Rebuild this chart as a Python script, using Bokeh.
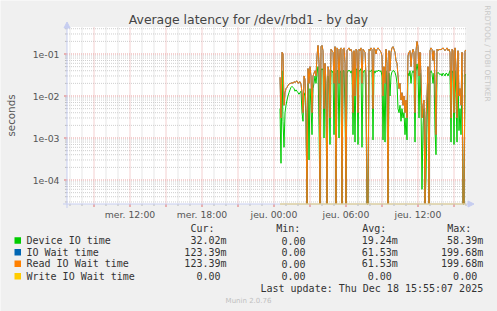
import math
from bokeh.plotting import figure
from bokeh.models import Range1d, LogScale, Label, Arrow, NormalHead
from bokeh.core.properties import value
from bokeh.embed import file_html
from bokeh.resources import INLINE

# ---------------- data ----------------
title_text = "Average latency for /dev/rbd1 - by day"
y_axis_label = "seconds"
side_text = "RRDTOOL / TOBI OETIKER"
footer_text = "Munin 2.0.76"
last_update = "Last update: Thu Dec 18 15:55:07 2025"

# time axis: hours counted from Wednesday 00:00
view_start_hour = 6.75
view_end_hour = 40.0833
data_start_hour = 24.5          # Thursday 00:30
step_hours = 5.0 / 60.0         # 5 minute samples

x_label_hours = [12, 18, 24, 30, 36]
x_tick_labels = ["mer. 12:00", "mer. 18:00", "jeu. 00:00", "jeu. 06:00", "jeu. 12:00"]

y_tick_values = [1e-4, 1e-3, 1e-2, 1e-1]
y_tick_labels = ["1e-04", "1e-03", "1e-02", "1e-01"]
Y_MIN, Y_MAX = 2.683e-5, 0.4396

device_io = [
    .005, .00025, .04, .0025, .0006, .004, .006, .008, .01, .012,
    .014, .016, .017, .016, .015, .013, .014, .013, .012, .011,
    .012, .013, .004, .0025, .012, .01, .003, 0, .02, .0003,
    .015, .006, .0012, .015, .02, .03, .02, .035, .05, .002,
    0, .04, .045, .04, .001, .03, .005, 0, .03, .02,
    .0007, .04, .04, .035, .0012, .035, 0, .04, .04, .001,
    .04, .035, 0, .04, .04, .005, 0, .035, .04, .04,
    .04, .035, .04, .0012, .035, .0008, .04, .045, .0007, .04,
    .04, .045, .0006, .035, .04, .04, .005, 0, 0, .04,
    .038, .04, .042, .0009, .04, .035, .04, .038, .04, .041,
    .038, .04, .03, .0009, .02, .0008, .04, .01, 0, .035,
    .01, .03, .038, .04, .04, .036, .03, .02, .005, .004,
    .006, .0025, .005, .003, .004, .0012, .003, .0009, .035, .03,
    .04, .02, .035, .04, .035, .0008, .038, .058, .04, .003,
    .035, .006, .00006, .002, .005, 0, .0001, .003, .02, 0,
    .035, .04, .035, .02, .035, .0015, .0004, .035, .036, .035,
    .032, .034, .03, .035, .033, .03, .035, .034, .03, .035,
    .04, .0008, .04, .035, .0007, .04, .01, .0008, .038, .0015,
    .005, .0012, .035, 0, 0, .032, .03202,
]

read_io_wait = [
    .028, .003, .11, .10, .006, .012, .015, .016, .018, .019,
    .02, .02, .021, .02, .022, .021, .022, .023, .02, .021,
    .022, .019, .012, .004, .03, .025, .004, 0, .045, .02,
    .05, .03, .004, .03, .035, .04, .03, .09, .16, .06,
    0, .15, .16, .12, .005, .06, .02, 0, .05, .04,
    .003, .13, .12, .11, .02, .15, 0, .14, .13, .02,
    .13, .14, 0, .13, .14, .06, 0, .12, .13, .14,
    .12, .13, .11, .004, .12, .01, .13, .12, .004, .13,
    .12, .14, .02, .13, .12, .11, .03, 0, 0, .13,
    .12, .14, .13, .005, .14, .13, .10, .13, .14, .13,
    .12, .11, .09, .01, .05, .02, .13, .06, 0, .12,
    .04, .11, .14, .15, .13, .11, .07, .06, .03, .015,
    .02, .008, .012, .006, .01, .004, .008, .003, .09, .11,
    .12, .05, .10, .13, .11, .004, .12, .20, .15, .03,
    .11, .03, .003, .006, .008, 0, .003, .01, .05, 0,
    .12, .14, .13, .07, .12, .02, .0012, .13, .12, .13,
    .125, .13, .13, .14, .13, .12, .13, .14, .12, .13,
    .11, .003, .13, .12, .004, .14, .05, .003, .12, .01,
    .015, .006, .11, 0, 0, .12, .12339,
]

io_wait = list(read_io_wait)                 # identical per legend
write_io_wait = [0.0] * len(read_io_wait)    # all zero per legend

series_names = ["Device IO time", "IO Wait time", "Read IO Wait time", "Write IO Wait time"]
series_colors = ["#00CC00", "#0066B3", "#FF8000", "#FFCC00"]
col_headers = ["Cur:", "Min:", "Avg:", "Max:"]
cur_vals = ["32.02m", "123.39m", "123.39m", "0.00"]
min_vals = ["0.00", "0.00", "0.00", "0.00"]
avg_vals = ["19.24m", "61.53m", "61.53m", "0.00"]
max_vals = ["58.39m", "199.68m", "199.68m", "0.00"]

# ---------------- layout (canvas pixels) ----------------
W, H = 497, 311
PL, PR, PT, PB = 66.5, 466.5, 26.5, 203.5   # plot area on the canvas

p = figure(width=W, height=H, output_backend="svg", toolbar_location=None,
           title=None, x_axis_type=None, y_axis_type=None,
           x_range=Range1d(0, W), y_range=Range1d(H, 0), min_border=0)
p.background_fill_color = "#F0F0F0"
p.border_fill_color = "#F0F0F0"
p.outline_line_color = None

# time scale mapped onto the plot area
px_per_h = (PR - PL) / (view_end_hour - view_start_hour)
p.extra_x_ranges = {"t": Range1d(view_start_hour - PL / px_per_h,
                                 view_start_hour + (W - PL) / px_per_h)}
# log value scale mapped onto the plot area
lmin, lmax = math.log10(Y_MIN), math.log10(Y_MAX)
dpp = (lmax - lmin) / (PB - PT)
p.extra_y_ranges = {"v": Range1d(10 ** (lmin - (H - PB) * dpp), 10 ** (lmax + PT * dpp))}
p.extra_y_scales = {"v": LogScale()}

# plot background
p.quad(left=[PL], right=[PR], top=[PT], bottom=[PB], fill_color="white", line_color=None)

minor_grid = "#cfcfcf"
major_grid = "#e8a0a0"
axis_color = "#c6cdf0"

x_major = [h for h in range(9, 41, 3)]
x_minor = [h for h in range(7, 41) if h % 3 != 0]
y_minor = [k * 10.0 ** d for d in range(-5, 0) for k in range(2, 10)]
y_minor = [v for v in y_minor if Y_MIN < v < Y_MAX]

def vlines(hours, color, y0=PT + 0.5, y1=PB):
    p.segment(x0=hours, x1=hours, y0=[y0] * len(hours), y1=[y1] * len(hours),
              x_range_name="t", line_color=color, line_width=1, line_dash="1 1")

def hlines(vals, color):
    p.segment(x0=[PL] * len(vals), x1=[PR] * len(vals), y0=vals, y1=vals,
              y_range_name="v", line_color=color, line_width=1, line_dash="1 1")

vlines(x_minor, minor_grid)
hlines(y_minor, minor_grid)
vlines(x_major, major_grid)
hlines(y_tick_values, major_grid)

# ---------------- series ----------------
t = [data_start_hour + i * step_hours for i in range(len(read_io_wait))]

def clip_zero(vals):
    return [v if v > 0 else Y_MIN for v in vals]

for vals, col in zip([device_io, io_wait, read_io_wait, write_io_wait], series_colors):
    p.line(t, clip_zero(vals), line_color=col, line_width=1,
           x_range_name="t", y_range_name="v")

# ---------------- axes ----------------
# tick marks
p.segment(x0=x_minor, x1=x_minor, y0=[PB] * len(x_minor), y1=[PB + 2] * len(x_minor),
          x_range_name="t", line_color="#bbbbbb", line_width=1)
p.segment(x0=x_major, x1=x_major, y0=[PB] * len(x_major), y1=[PB + 3] * len(x_major),
          x_range_name="t", line_color="#e07070", line_width=1)
p.segment(x0=[PL - 2] * len(y_minor), x1=[PL] * len(y_minor), y0=y_minor, y1=y_minor,
          y_range_name="v", line_color="#bbbbbb", line_width=1)
p.segment(x0=[PL - 3] * len(y_tick_values), x1=[PL] * len(y_tick_values),
          y0=y_tick_values, y1=y_tick_values,
          y_range_name="v", line_color="#e07070", line_width=1)

# axis lines with arrow heads
p.add_layout(Arrow(x_start=PL, y_start=PB + 4, x_end=PL, y_end=PT - 5,
                   line_color=axis_color, line_width=1,
                   end=NormalHead(size=6, fill_color=axis_color, line_color=axis_color)))
p.add_layout(Arrow(x_start=PL - 4, y_start=PB, x_end=PR + 7, y_end=PB,
                   line_color=axis_color, line_width=1,
                   end=NormalHead(size=6, fill_color=axis_color, line_color=axis_color)))

# tick labels
p.text(x=x_label_hours, y=[213.5] * len(x_label_hours), text=x_tick_labels,
       x_range_name="t", text_align="center", text_baseline="middle",
       text_font=value("DejaVu Sans"), text_font_size=value("9.3px"), text_color="#555555")
p.text(x=[PL - 7.5] * len(y_tick_values), y=y_tick_values, text=y_tick_labels,
       y_range_name="v", text_align="right", text_baseline="middle",
       text_font=value("DejaVu Sans"), text_font_size=value("9.3px"), text_color="#555555")

# ---------------- texts ----------------
def lab(cx, cy, text, size, color, font="DejaVu Sans", align="left", angle=0.0):
    p.add_layout(Label(x=cx, y=cy, text=text, text_font=font, text_font_size=f"{size}px",
                       text_color=color, text_align=align, text_baseline="middle",
                       angle=angle))

lab(248, 19, title_text, 12.4, "#444444", align="center")
lab(10, 115, y_axis_label, 10.3, "#555555", align="center", angle=math.pi / 2)
lab(487, 53, side_text, 7.5, "#c8c8c8", align="center", angle=-math.pi / 2)

mono = "DejaVu Sans Mono"
header_x = [190, 275.7, 361.7, 446.7]
col_right = [226, 311, 397.3, 482.7]
for hx, htxt in zip(header_x, col_headers):
    lab(hx, 228.3, htxt, 10, "#333333", font=mono)

row_y = [240, 251.7, 263.3, 275.7]
p.quad(left=[14] * 4, right=[20.5] * 4,
       top=[y - 3.2 for y in row_y], bottom=[y + 3.2 for y in row_y],
       fill_color=series_colors, line_color=None)
for k, name in enumerate(series_names):
    y = row_y[k]
    lab(26, y, name, 10, "#333333", font=mono)
    for cr, vals in zip(col_right, [cur_vals, min_vals, avg_vals, max_vals]):
        s = vals[k]
        rx = cr if s.endswith("m") else cr - 6.0
        lab(rx, y, s, 10, "#333333", font=mono, align="right")

lab(482.7, 287.7, last_update, 10, "#333333", font=mono, align="right")
lab(248, 300, footer_text, 7, "#c0c0c0", align="center")

open("out.html", "w").write(file_html(p, INLINE))
